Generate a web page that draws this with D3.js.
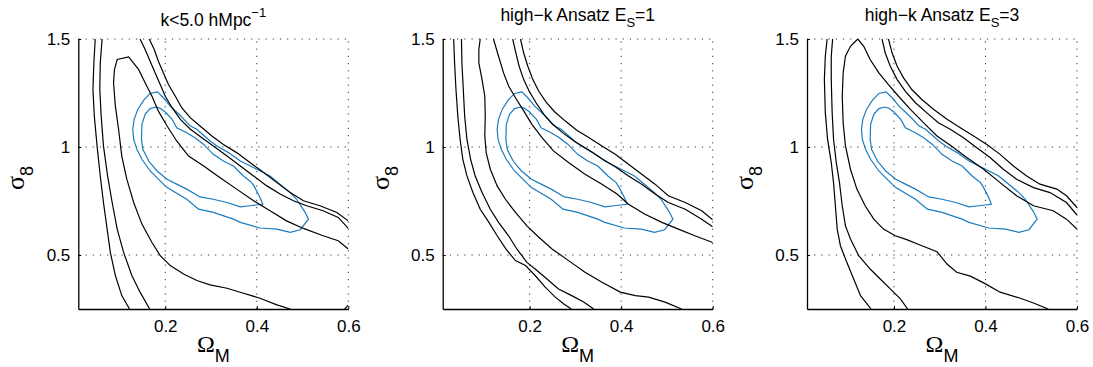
<!DOCTYPE html>
<html>
<head>
<meta charset="utf-8">
<script src="https://cdn.jsdelivr.net/npm/d3@7"></script>
<style>
  body { margin: 0; background: #fff; }
  text { font-family: "Liberation Sans", Arial, Helvetica, sans-serif; fill: #000; }
</style>
</head>
<body>
<svg id="chart" width="1093" height="367"></svg>
<script>
// axis ranges and ticks (same for all panels)
const xDomain = [0.01, 0.6];
const yDomain = [0.25, 1.5];
const xTicks = [0.2, 0.4, 0.6];
const yTicks = [0.5, 1, 1.5];

// blue reference contours (identical in every panel), [Omega_M, sigma_8]
const blueOuter = [[0.183,1.255],[0.167,1.248],[0.153,1.217],[0.140,1.174],[0.132,1.128],[0.129,1.082],[0.131,1.035],[0.138,0.989],[0.149,0.943],[0.167,0.889],[0.185,0.851],[0.204,0.812],[0.247,0.758],[0.273,0.712],[0.305,0.697],[0.349,0.666],[0.364,0.651],[0.407,0.625],[0.444,0.620],[0.473,0.605],[0.495,0.617],[0.513,0.666],[0.505,0.700],[0.487,0.758],[0.473,0.789],[0.429,0.866],[0.400,0.897],[0.364,0.935],[0.338,0.974],[0.313,1.005],[0.298,1.028],[0.269,1.082],[0.255,1.097],[0.233,1.146],[0.211,1.189],[0.196,1.228]];
const blueInner = [[0.180,1.185],[0.167,1.178],[0.156,1.151],[0.149,1.105],[0.148,1.035],[0.151,0.989],[0.164,0.935],[0.182,0.889],[0.204,0.851],[0.225,0.828],[0.247,0.805],[0.276,0.769],[0.305,0.758],[0.335,0.743],[0.364,0.723],[0.385,0.728],[0.413,0.735],[0.407,0.766],[0.396,0.812],[0.389,0.835],[0.371,0.866],[0.349,0.912],[0.327,0.935],[0.305,0.966],[0.284,1.012],[0.265,1.043],[0.247,1.066],[0.225,1.089],[0.215,1.128],[0.200,1.162],[0.188,1.180]];

// black contours, panel 1: k<5.0 hMpc^-1
const k5Lines = [
  [[0.047,1.5],[0.044,1.389],[0.042,1.266],[0.045,1.143],[0.051,1.005],[0.058,0.866],[0.065,0.743],[0.073,0.62],[0.080,0.512],[0.091,0.405],[0.105,0.312],[0.122,0.25]],
  [[0.062,1.5],[0.058,1.389],[0.057,1.266],[0.060,1.143],[0.065,1.005],[0.074,0.866],[0.084,0.743],[0.095,0.620],[0.109,0.512],[0.127,0.405],[0.145,0.328],[0.166,0.25]],
  [[0.473,0.25],[0.444,0.269],[0.407,0.300],[0.371,0.323],[0.335,0.346],[0.298,0.362],[0.269,0.382],[0.240,0.412],[0.211,0.451],[0.189,0.497],[0.171,0.558],[0.149,0.643],[0.131,0.743],[0.116,0.851],[0.105,0.958],[0.098,1.082],[0.091,1.189],[0.087,1.297],[0.089,1.358],[0.095,1.405],[0.120,1.417],[0.142,1.358],[0.156,1.297],[0.171,1.235],[0.185,1.166],[0.204,1.097],[0.225,1.028],[0.251,0.958],[0.284,0.912],[0.320,0.858],[0.356,0.805],[0.393,0.751],[0.429,0.705],[0.465,0.658],[0.502,0.623],[0.545,0.589],[0.578,0.566],[0.600,0.528]],
  [[0.592,0.25],[0.6,0.268]],
  [[0.145,1.5],[0.156,1.451],[0.167,1.397],[0.178,1.343],[0.189,1.289],[0.200,1.235],[0.215,1.182],[0.233,1.128],[0.255,1.082],[0.280,1.043],[0.305,1.005],[0.335,0.958],[0.364,0.912],[0.393,0.866],[0.422,0.820],[0.451,0.782],[0.480,0.751],[0.509,0.728],[0.545,0.705],[0.578,0.674],[0.600,0.623]],
  [[0.165,1.5],[0.176,1.451],[0.185,1.397],[0.196,1.343],[0.207,1.289],[0.222,1.235],[0.236,1.182],[0.255,1.135],[0.276,1.097],[0.302,1.051],[0.327,1.012],[0.356,0.974],[0.385,0.928],[0.415,0.882],[0.444,0.835],[0.473,0.789],[0.502,0.751],[0.538,0.728],[0.575,0.697],[0.600,0.658]]
];

// black contours, panel 2: high-k Ansatz E_S=1
const es1Lines = [
  [[0.034,1.5],[0.036,1.389],[0.039,1.266],[0.043,1.143],[0.048,1.035],[0.054,0.943],[0.063,0.866],[0.076,0.789],[0.092,0.712],[0.111,0.651],[0.129,0.589],[0.148,0.528],[0.169,0.474],[0.191,0.451],[0.212,0.405],[0.234,0.351],[0.256,0.305],[0.274,0.274],[0.291,0.25]],
  [[0.051,1.5],[0.052,1.389],[0.055,1.266],[0.058,1.143],[0.063,1.035],[0.071,0.943],[0.081,0.866],[0.096,0.789],[0.114,0.712],[0.132,0.651],[0.154,0.589],[0.172,0.528],[0.194,0.466],[0.212,0.435],[0.238,0.389],[0.263,0.343],[0.292,0.312],[0.318,0.282],[0.340,0.25]],
  [[0.092,1.5],[0.089,1.451],[0.089,1.389],[0.096,1.312],[0.102,1.235],[0.103,1.143],[0.102,1.051],[0.105,0.974],[0.114,0.897],[0.129,0.820],[0.147,0.758],[0.169,0.697],[0.194,0.635],[0.220,0.582],[0.249,0.528],[0.285,0.474],[0.321,0.420],[0.358,0.374],[0.398,0.328],[0.431,0.312],[0.460,0.305],[0.496,0.282],[0.532,0.25]],
  [[0.121,1.5],[0.132,1.420],[0.143,1.343],[0.154,1.282],[0.169,1.228],[0.185,1.174],[0.205,1.105],[0.227,1.043],[0.252,0.982],[0.285,0.928],[0.321,0.874],[0.358,0.828],[0.391,0.782],[0.416,0.735],[0.452,0.689],[0.489,0.651],[0.525,0.620],[0.561,0.589],[0.6,0.558]],
  [[0.163,1.5],[0.170,1.435],[0.177,1.374],[0.187,1.312],[0.199,1.258],[0.214,1.205],[0.231,1.151],[0.250,1.105],[0.274,1.063],[0.300,1.023],[0.329,0.986],[0.358,0.946],[0.387,0.909],[0.416,0.866],[0.445,0.828],[0.474,0.782],[0.503,0.743],[0.540,0.712],[0.576,0.666],[0.6,0.631]],
  [[0.180,1.5],[0.187,1.435],[0.196,1.374],[0.207,1.312],[0.220,1.258],[0.236,1.208],[0.255,1.162],[0.278,1.120],[0.303,1.078],[0.330,1.043],[0.358,1.005],[0.387,0.966],[0.416,0.920],[0.445,0.874],[0.474,0.828],[0.503,0.774],[0.540,0.743],[0.576,0.705],[0.6,0.663]]
];

// black contours, panel 3: high-k Ansatz E_S=3
const es3Lines = [
  [[0.054,1.5],[0.050,1.420],[0.048,1.312],[0.050,1.158],[0.055,1.035],[0.063,0.928],[0.068,0.835],[0.072,0.728],[0.076,0.620],[0.083,0.543],[0.097,0.466],[0.112,0.389],[0.127,0.312],[0.150,0.25]],
  [[0.066,1.5],[0.063,1.420],[0.063,1.312],[0.065,1.158],[0.068,1.035],[0.074,0.928],[0.081,0.835],[0.087,0.728],[0.094,0.635],[0.105,0.574],[0.123,0.497],[0.148,0.435],[0.170,0.389],[0.192,0.343],[0.214,0.297],[0.230,0.25]],
  [[0.537,0.25],[0.505,0.278],[0.476,0.300],[0.432,0.328],[0.396,0.371],[0.367,0.402],[0.337,0.420],[0.316,0.458],[0.294,0.515],[0.257,0.546],[0.228,0.571],[0.203,0.589],[0.177,0.620],[0.156,0.666],[0.137,0.728],[0.119,0.805],[0.105,0.897],[0.094,1.005],[0.089,1.112],[0.087,1.235],[0.089,1.343],[0.094,1.420],[0.105,1.466],[0.121,1.5],[0.134,1.466],[0.148,1.405],[0.167,1.343],[0.188,1.289],[0.210,1.235],[0.236,1.174],[0.265,1.112],[0.294,1.051],[0.327,1.002],[0.359,0.951],[0.396,0.897],[0.432,0.835],[0.468,0.774],[0.505,0.728],[0.548,0.705],[0.577,0.666],[0.6,0.620]],
  [[0.174,1.5],[0.181,1.435],[0.192,1.374],[0.207,1.312],[0.225,1.258],[0.247,1.205],[0.272,1.158],[0.297,1.112],[0.323,1.082],[0.352,1.043],[0.381,0.997],[0.410,0.951],[0.439,0.897],[0.468,0.851],[0.505,0.812],[0.541,0.789],[0.577,0.743],[0.6,0.685]],
  [[0.188,1.5],[0.196,1.435],[0.207,1.374],[0.221,1.320],[0.239,1.266],[0.261,1.220],[0.287,1.174],[0.316,1.128],[0.345,1.089],[0.374,1.051],[0.403,1.012],[0.432,0.966],[0.461,0.912],[0.490,0.866],[0.519,0.828],[0.556,0.805],[0.577,0.774],[0.6,0.720]]
];

// panel titles: [main text, sub/superscript, kind, trailing text]
const titles = [
  ["k<5.0 hMpc", "\u22121", "sup", ""],
  ["high\u2212k Ansatz E", "S", "sub", "=1"],
  ["high\u2212k Ansatz E", "S", "sub", "=3"]
];

const PANEL_LEFTS = [78.3, 442.7, 807];
const TOP = 39;
const SIZE = 270;
const BLUE = "#1a7bbf";

const svg = d3.select("#chart");

const panelLines = [k5Lines, es1Lines, es3Lines];

panelLines.forEach((lines, i) => {
  const left = PANEL_LEFTS[i];
  const x = d3.scaleLinear().domain(xDomain).range([left, left + SIZE]);
  const y = d3.scaleLinear().domain(yDomain).range([TOP + SIZE, TOP]);
  const g = svg.append("g");

  const clipId = "clip" + i;
  svg.append("clipPath").attr("id", clipId)
    .append("rect")
    .attr("x", left).attr("y", TOP)
    .attr("width", SIZE).attr("height", SIZE);

  // dotted grid
  const grid = g.append("g")
    .attr("stroke", "#333")
    .attr("stroke-width", 1)
    .attr("stroke-dasharray", "1.2,6");
  grid.selectAll(".gx").data(xTicks).enter().append("line")
    .attr("x1", d => x(d)).attr("x2", d => x(d))
    .attr("y1", y(yDomain[0])).attr("y2", y(yDomain[1]));
  grid.selectAll(".gy").data(yTicks).enter().append("line")
    .attr("y1", d => y(d)).attr("y2", d => y(d))
    .attr("x1", x(xDomain[0])).attr("x2", x(xDomain[1]));

  const line = d3.line().x(d => x(d[0])).y(d => y(d[1]));
  const closed = d3.line().x(d => x(d[0])).y(d => y(d[1])).curve(d3.curveLinearClosed);

  const plot = g.append("g").attr("clip-path", `url(#${clipId})`).attr("fill", "none");

  plot.selectAll(".blue").data([blueOuter, blueInner]).enter().append("path")
    .attr("d", closed)
    .attr("stroke", BLUE)
    .attr("stroke-width", 1.2);

  plot.selectAll(".black").data(lines).enter().append("path")
    .attr("d", line)
    .attr("stroke", "#000")
    .attr("stroke-width", 1.2);

  // axes (box off: only left and bottom)
  const yAxis = g.append("g")
    .attr("transform", `translate(${left},0)`)
    .call(d3.axisLeft(y).tickValues(yTicks).tickSizeInner(-3).tickSizeOuter(0)
      .tickPadding(8).tickFormat(d => String(d)));
  const xAxis = g.append("g")
    .attr("transform", `translate(0,${TOP + SIZE})`)
    .call(d3.axisBottom(x).tickValues(xTicks).tickSizeInner(-3).tickSizeOuter(0)
      .tickPadding(11).tickFormat(d => String(d)));
  [xAxis, yAxis].forEach(a => {
    a.select(".domain").attr("stroke", "#000").attr("stroke-width", 1.3);
    a.selectAll(".tick line").attr("stroke", "#000");
    a.selectAll(".tick text")
      .attr("font-family", "'Liberation Sans', Arial, Helvetica, sans-serif")
      .attr("font-size", 17)
      .attr("fill", "#000");
  });

  const cx = left + SIZE / 2;

  // x label: Omega_M
  const xl = g.append("text")
    .attr("x", cx).attr("y", 352)
    .attr("text-anchor", "middle");
  xl.append("tspan").text("\u03A9")
    .attr("font-family", "'Liberation Serif', 'Times New Roman', serif")
    .attr("font-size", 24);
  xl.append("tspan").text("M")
    .attr("dy", 10)
    .attr("font-size", 18);

  // y label: sigma_8
  const yl = g.append("text")
    .attr("transform", `translate(${left - 54},${TOP + SIZE / 2 + 4}) rotate(-90)`)
    .attr("text-anchor", "middle");
  yl.append("tspan").text("\u03C3")
    .attr("font-family", "'Liberation Serif', 'Times New Roman', serif")
    .attr("font-size", 26);
  yl.append("tspan").text("8")
    .attr("dy", 9)
    .attr("font-size", 18);

  // title
  const t = titles[i];
  const title = g.append("text")
    .attr("x", cx)
    .attr("y", t[2] === "sup" ? 26 : 21)
    .attr("text-anchor", "middle")
    .attr("font-size", 17.5);
  title.append("tspan").text(t[0]);
  title.append("tspan").text(t[1])
    .attr("font-size", 13)
    .attr("dy", t[2] === "sup" ? -9 : 6);
  if (t[3]) {
    title.append("tspan").text(t[3]).attr("dy", -6);
  }
});
</script>
</body>
</html>
